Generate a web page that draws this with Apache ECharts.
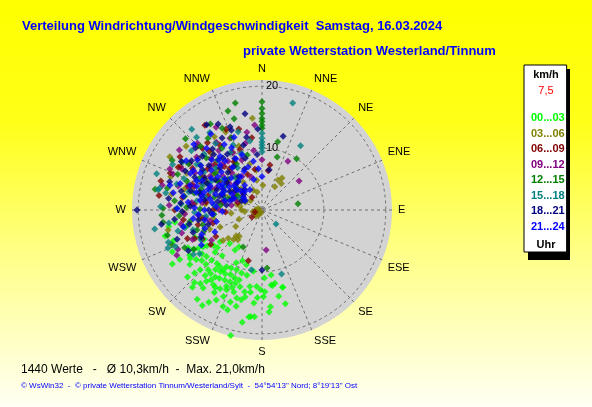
<!DOCTYPE html>
<html>
<head>
<meta charset="utf-8">
<script src="https://cdn.jsdelivr.net/npm/echarts@6/dist/echarts.min.js"></script>
<style>
  html, body { margin: 0; padding: 0; }
  #chart { width: 592px; height: 407px; }
</style>
</head>
<body>
<div id="chart"></div>
<script>
// Windrichtung (Grad) / Windgeschwindigkeit (km/h), je Zeitfenster
const dirNames = ['N', 'NNE', 'NE', 'ENE', 'E', 'ESE', 'SE', 'SSE', 'S', 'SSW', 'SW', 'WSW', 'W', 'WNW', 'NW', 'NNW'];
const ringTicks = [10, 20];
const groupNames = ['00...03', '03...06', '06...09', '09...12', '12...15', '15...18', '18...21', '21...24'];
const groupColors = ['#00ff00', '#808000', '#800000', '#800080', '#008000', '#008080', '#000080', '#0000ff'];

const h00_03 = [
    [262, 14.2], [251, 15.1], [239, 16.9], [239, 15.5], [243, 13.4], [233, 14.6], [240, 12.8], [239, 12.0], [238, 11.2], [237, 10.6],
    [234, 9.7], [233, 8.5], [224, 7.5], [214, 7.8], [212, 7.0], [233, 13.3], [230, 12.7], [230, 11.7], [225, 11.5], [220, 11.3],
    [217, 11.4], [213, 11.5], [212, 10.8], [208, 10.6], [203, 10.5], [198, 10.7], [193, 10.8], [227, 14.9], [226, 13.9], [221, 14.0],
    [219, 13.2], [215, 13.2], [212, 13.0], [208, 12.8], [204, 12.7], [200, 12.6], [220, 15.5], [218, 14.6], [213, 14.4], [208, 14.4],
    [204, 14.1], [199, 14.0], [196, 12.9], [192, 13.5], [189, 12.5], [184, 12.4], [181, 12.9], [173, 12.2], [165, 12.9], [169, 14.2],
    [212, 18.2], [210, 17.2], [207, 16.3], [204, 15.3], [199, 17.1], [199, 15.7], [195, 16.1], [193, 14.9], [191, 14.3], [185, 15.1],
    [184, 17.3], [186, 17.3], [175, 15.7], [179, 14.0], [194, 20.9], [258, 12.5], [265, 10.1], [248, 11.7], [228, 16.2], [222, 16.8],
    [216, 17.8], [236, 14.0], [245, 16.0], [206, 9.5], [201, 8.8], [196, 9.2], [188, 10.0], [178, 11.0], [172, 10.6], [210, 15.4],
    [202, 16.8], [190, 18.4], [187, 17.4], [176, 16.5], [166, 15.6], [170, 12.0], [230, 9.4], [243, 10.5], [172, 12.3], [165, 12.9],
    [218, 12.2], [214, 12.0], [210, 11.9], [206, 11.6], [202, 11.8], [198, 11.9], [222, 13.0], [226, 12.6], [216, 14.0], [211, 14.6],
    [205, 13.6], [201, 13.4], [196, 14.8], [223, 16.0], [217, 15.8], [188, 13.4], [183, 14.2], [178, 13.2], [228, 10.2], [221, 9.8],
    [234, 12.0], [238, 13.8], [260, 15.3], [255, 16.2]
];
const h03_06 = [
    [2, 4.0], [28, 5.5], [29, 4.3], [32, 6.1], [36, 5.3], [354, 14.9], [350, 4.9], [336, 3.5], [221, 5.6], [225, 5.9],
    [248, 7.3], [258, 15.5], [327, 14.1], [309, 13.3], [250, 0.8], [230, 0.6], [270, 1.0], [200, 0.5], [290, 0.7], [240, 1.2],
    [230, 7.1], [219, 6.2], [224, 6.6], [285, 6.2], [292, 8.4], [298, 10.3], [305, 7.1], [312, 9.6], [318, 12.2], [322, 6.8],
    [330, 8.9], [340, 11.0], [296, 13.5], [288, 11.8], [276, 9.2], [268, 12.6], [262, 10.1], [280, 14.8], [315, 4.8], [326, 5.4],
    [302, 5.9], [345, 7.7], [335, 13.9], [310, 16.0], [300, 17.2], [290, 15.7], [272, 7.4], [283, 4.2], [264, 5.0], [250, 9.0],
    [295, 3.0], [310, 2.4], [280, 3.6], [265, 2.8], [320, 8.0], [307, 9.8], [290, 6.0], [300, 4.5], [275, 11.5], [285, 13.0],
    [315, 14.6], [260, 8.0], [333, 10.5], [248, 4.0], [238, 5.0], [232, 8.0], [270, 3.3], [345, 3.0], [352, 6.5], [260, 1.5],
    [215, 1.0], [245, 0.4], [275, 0.5], [225, 1.4]
];
const h06_09 = [
    [10, 7.4], [9, 6.4], [195, 8.5], [247, 11.8], [298, 14.9], [322, 2.6], [311, 5.4], [321, 14.0], [316, 13.8], [297, 15.2],
    [255, 1.2], [235, 2.0], [288, 12.6], [301, 13.1], [307, 11.0], [319, 9.3], [327, 12.5], [336, 14.3], [344, 13.6], [294, 10.6],
    [285, 9.0], [279, 13.0], [270, 14.1], [263, 12.8], [257, 10.6], [304, 8.3], [314, 10.6], [330, 9.0], [352, 11.8], [292, 16.0],
    [278, 16.8], [240, 8.6], [236, 10.0], [249, 12.9], [296, 5.0], [305, 3.8], [283, 6.4], [271, 7.8], [262, 9.6], [310, 7.5],
    [322, 8.5], [338, 6.2], [290, 12.0], [300, 10.9], [275, 11.0], [318, 12.8], [340, 10.4], [350, 6.7], [287, 4.1], [267, 5.9],
    [255, 8.2], [244, 10.7], [303, 15.8], [326, 16.5], [286, 17.0], [298, 7.1], [313, 4.2], [278, 9.1]
];
const h09_12 = [
    [28, 8.9], [52, 7.6], [174, 6.5], [245, 15.0], [355, 13.8], [349, 12.8], [326, 13.2], [294, 16.3], [0, 8.1], [289, 11.6],
    [299, 12.4], [309, 13.6], [316, 15.0], [324, 11.9], [333, 10.4], [303, 10.0], [293, 9.0], [284, 10.2], [276, 11.4], [267, 12.5],
    [260, 13.3], [311, 8.4], [321, 7.7], [338, 8.7], [346, 11.1], [286, 14.1], [273, 15.0], [306, 16.5], [297, 14.5], [254, 13.5],
    [281, 6.6], [314, 5.9], [331, 15.3], [262, 9.2], [242, 15.6], [301, 5.3], [291, 4.4], [279, 5.0], [270, 6.9], [258, 8.6],
    [309, 6.8], [319, 9.8], [329, 6.3], [342, 5.6], [296, 8.2], [287, 12.4], [277, 9.7], [265, 10.3], [303, 13.9], [315, 11.7],
    [325, 9.6], [352, 9.7], [284, 16.6], [247, 12.2], [239, 9.5], [300, 3.3], [311, 10.9], [292, 15.5], [336, 12.7]
];
const h12_15 = [
    [0, 13.2], [0, 13.7], [0, 14.3], [0, 14.8], [0, 15.6], [0, 16.4], [0, 17.5], [13, 11.3], [16, 8.9], [34, 10.0],
    [80, 5.9], [346, 17.8], [343, 15.4], [175, 9.4], [207, 6.7], [271, 16.0], [263, 16.1], [291, 13.0], [302, 14.0], [313, 12.3],
    [323, 14.5], [283, 15.7], [276, 14.2], [266, 13.4], [255, 15.8], [297, 11.3], [308, 9.6], [318, 10.8], [334, 14.7], [289, 10.4],
    [280, 12.7], [299, 16.6], [329, 16.2], [341, 16.9], [244, 13.9], [253, 11.0], [303, 8.6], [295, 6.9], [312, 7.4], [271, 10.0],
    [285, 8.0], [249, 15.6], [267, 16.2], [300, 4.6], [289, 5.6], [277, 6.7], [265, 7.8], [256, 9.8], [309, 5.1], [321, 6.1],
    [331, 8.5], [345, 9.2], [296, 9.7], [284, 11.3], [272, 12.2], [261, 11.8], [306, 12.4], [316, 14.3], [327, 11.9], [337, 12.7],
    [293, 14.8], [281, 17.6], [250, 10.0], [240, 12.7], [313, 16.9], [299, 3.2], [285, 10.6]
];
const h15_18 = [
    [0, 12.4], [0, 11.6], [0, 11.0], [0, 10.5], [0, 10.0], [0, 9.4], [16, 18.0], [31, 12.1], [135, 3.2], [163, 10.8],
    [281, 17.1], [251, 16.0], [190, 9.8], [235, 12.3], [282, 16.9], [319, 17.3], [295, 11.4], [305, 12.9], [287, 14.4], [274, 13.1],
    [262, 15.2], [300, 9.4], [312, 10.1], [325, 13.1], [336, 11.5], [290, 8.9], [278, 10.6], [268, 10.9], [310, 14.9], [318, 15.8],
    [297, 16.2], [256, 14.0], [247, 15.2], [303, 7.1], [284, 12.2], [330, 7.9], [343, 13.2], [272, 16.4], [260, 17.6], [248, 16.4],
    [298, 4.1], [287, 6.3], [276, 7.8], [264, 9.1], [254, 11.6], [308, 8.0], [320, 6.9], [331, 10.6], [340, 9.7], [293, 10.4],
    [283, 9.5], [271, 13.8], [257, 12.8], [303, 11.2], [314, 13.0], [326, 15.1], [350, 11.3], [292, 13.6], [280, 15.8], [244, 11.0],
    [237, 13.2], [301, 15.0], [311, 5.6], [289, 18.0]
];
const h18_21 = [
    [270, 20.2], [180, 9.7], [16, 12.4], [10, 6.6], [339, 14.4], [339, 13.8], [269, 12.9], [252, 11.7], [333, 15.6], [327, 16.4],
    [344, 10.9], [312, 13.0], [296, 12.1], [286, 10.5], [303, 9.0], [318, 8.2], [325, 6.6], [307, 5.4], [291, 6.8], [280, 9.4],
    [273, 11.6], [264, 14.2], [259, 12.0], [301, 15.2], [310, 11.2], [321, 12.7], [332, 9.4], [348, 12.0], [355, 9.0], [294, 8.0],
    [283, 13.4], [315, 9.6], [299, 10.6], [277, 15.2], [266, 8.2], [305, 13.9], [288, 7.2], [328, 10.6], [320, 4.4], [246, 10.8],
    [241, 13.6], [357, 13.1], [350, 15.8], [300, 6.0], [290, 5.1], [281, 7.3], [270, 8.6], [261, 10.4], [308, 7.2], [317, 6.0],
    [327, 8.4], [337, 7.2], [296, 9.9], [285, 11.9], [275, 13.2], [262, 16.4], [304, 11.6], [313, 14.7], [323, 10.5], [342, 8.8],
    [297, 13.9], [287, 15.6], [251, 14.5], [255, 9.0], [311, 3.9], [294, 3.6], [278, 5.8], [319, 11.9], [331, 13.3]
];
const h21_24 = [
    [289, 12.3], [329, 3.8], [317, 9.9], [279, 10.1], [300, 8.0], [305, 6.5], [310, 7.8], [295, 9.2], [285, 11.0], [320, 6.0],
    [325, 8.4], [315, 11.5], [298, 5.5], [308, 10.4], [292, 7.0], [282, 8.6], [276, 12.0], [300, 12.8], [312, 4.6], [335, 6.9],
    [340, 9.5], [318, 13.4], [288, 13.9], [303, 14.6], [296, 10.8], [307, 8.9], [284, 6.2], [270, 9.3], [274, 7.4], [322, 11.0],
    [330, 12.2], [345, 5.1], [350, 8.0], [0, 5.4], [311, 6.0], [301, 11.6], [293, 4.9], [287, 9.8], [263, 11.2], [258, 13.0],
    [314, 15.3], [326, 14.8], [339, 12.6], [304, 3.6], [281, 14.6], [268, 6.4], [299, 7.4], [316, 7.2], [323, 9.9], [290, 11.2],
    [252, 9.7], [245, 8.4], [248, 10.5], [240, 11.3], [256, 7.6], [297, 6.8], [309, 5.2], [302, 9.7], [294, 11.6], [283, 10.0],
    [272, 10.9], [278, 8.1], [286, 5.4], [313, 9.0], [319, 10.7], [327, 6.4], [333, 9.3], [306, 12.2], [297, 13.0], [291, 9.3],
    [280, 12.9], [266, 10.3], [260, 9.4], [317, 4.1], [325, 4.9], [342, 7.3], [355, 6.7], [303, 7.6], [289, 8.0], [308, 13.2],
    [299, 3.1], [271, 13.7], [285, 15.4], [334, 11.2], [265, 8.0]
];
const groups = [h00_03, h03_06, h06_09, h09_12, h12_15, h15_18, h18_21, h21_24];

const chart = echarts.init(document.getElementById('chart'));
const font = "Arial, 'Liberation Sans', sans-serif";
const gridLine = {type: [3, 3], color: '#707070', width: 1};

chart.setOption({
    animation: false,
    backgroundColor: new echarts.graphic.LinearGradient(0, 0, 0, 1, [
        {offset: 0, color: '#ffff00'},
        {offset: 0.3, color: '#ffff18'},
        {offset: 0.6, color: '#ffff80'},
        {offset: 1, color: '#fffff4'}
    ]),
    title: [
        {text: 'Verteilung Windrichtung/Windgeschwindigkeit  Samstag, 16.03.2024', left: 22, top: 20, padding: 0,
            textStyle: {color: '#0000ff', fontSize: 13, fontWeight: 'bold', fontFamily: font}},
        {text: 'private Wetterstation Westerland/Tinnum', left: 243, top: 45, padding: 0,
            textStyle: {color: '#0000ff', fontSize: 13, fontWeight: 'bold', fontFamily: font}},
        {text: 'km/h', left: 546, top: 69, padding: 0, textAlign: 'center', z: 10,
            textStyle: {color: '#000', fontSize: 11, fontWeight: 'bold', fontFamily: font}},
        {text: '7,5', left: 546, top: 85, padding: 0, textAlign: 'center', z: 10,
            textStyle: {color: '#ff0000', fontSize: 11, fontWeight: 'normal', fontFamily: font}},
        {text: 'Uhr', left: 546, top: 239, padding: 0, textAlign: 'center', z: 10,
            textStyle: {color: '#000', fontSize: 11, fontWeight: 'bold', fontFamily: font}},
        {text: '1440 Werte   -   Ø 10,3km/h  -  Max. 21,0km/h', left: 21, top: 364, padding: 0,
            textStyle: {color: '#000', fontSize: 12, fontWeight: 'normal', fontFamily: font}},
        {text: '© WsWin32  -  © private Wetterstation Tinnum/Westerland/Sylt  -  54°54\'13" Nord; 8°19\'13" Ost', left: 21, top: 382, padding: 0,
            textStyle: {color: '#0000ff', fontSize: 8, fontWeight: 'normal', fontFamily: font}}
    ],
    // Schatten hinter dem Legendenkasten
    graphic: [{
        type: 'rect', left: 528, top: 69, z: 0,
        shape: {width: 42, height: 191},
        style: {fill: '#000000'}
    }],
    legend: {
        orient: 'vertical',
        left: 524,
        top: 65,
        padding: [47, 2, 20, 2],
        itemWidth: 0,
        itemHeight: 12,
        itemGap: 4,
        selectedMode: false,
        backgroundColor: '#ffffff',
        borderColor: '#000000',
        borderWidth: 1,
        z: 5,
        textStyle: {fontSize: 11, fontWeight: 'bold', fontFamily: font},
        data: groupNames.map((n, i) => ({name: n, icon: 'none', textStyle: {color: groupColors[i]}}))
    },
    // polar 0 = graue Scheibe, polar 1 = Raster + Punkte
    polar: [
        {center: [262, 210], radius: 130},
        {center: [262, 210], radius: 130}
    ],
    angleAxis: [
        {
            polarIndex: 0, z: 0,
            type: 'value', min: 0, max: 360, startAngle: 90,
            axisLine: {show: false}, axisTick: {show: false}, axisLabel: {show: false},
            splitLine: {show: false},
            splitArea: {show: true, areaStyle: {color: ['#d3d3d3']}}
        },
        {
            polarIndex: 1, z: 1,
            type: 'value',
            min: 0,
            max: 360,
            interval: 22.5,
            startAngle: 90,
            clockwise: true,
            axisLine: {show: false},
            axisTick: {show: false},
            axisLabel: {
                margin: 6,
                color: '#000',
                fontSize: 11,
                fontFamily: font,
                formatter: v => dirNames[Math.round(v / 22.5) % 16]
            },
            splitLine: {show: true, lineStyle: gridLine},
            splitArea: {show: false}
        }
    ],
    radiusAxis: [
        {
            polarIndex: 0, z: 0,
            type: 'value', min: 0, max: 21, show: false
        },
        {
            polarIndex: 1, z: 1,
            type: 'value',
            min: 0,
            max: 21,
            interval: 10,
            axisLine: {show: false},
            axisTick: {show: false, customValues: ringTicks},
            axisLabel: {
                customValues: ringTicks, color: '#000', fontSize: 11, fontFamily: font,
                margin: -4, align: 'left', verticalAlign: 'middle'
            },
            splitLine: {show: true, lineStyle: gridLine}
        }
    ],
    series: groups.map((g, i) => ({
        name: groupNames[i],
        type: 'scatter',
        coordinateSystem: 'polar',
        polarIndex: 1,
        symbol: 'diamond',
        symbolSize: 7,
        z: 3,
        itemStyle: {color: groupColors[i]},
        data: g.map(([deg, kmh]) => [kmh, deg])
    }))
});
</script>
</body>
</html>
